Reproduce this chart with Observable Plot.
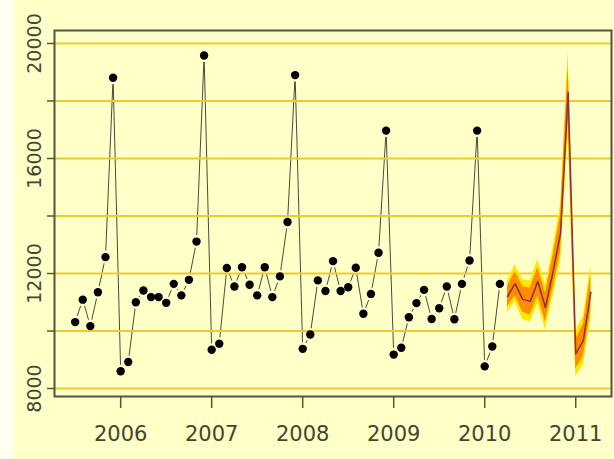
<!DOCTYPE html>
<html>
<head>
<meta charset="utf-8">
<script src="https://cdn.jsdelivr.net/npm/d3@7"></script>
<script src="https://cdn.jsdelivr.net/npm/@observablehq/plot@0.6"></script>
<style>
  html, body { margin: 0; padding: 0; background: #FFFFC8; }
  #chart svg { display: block; }
</style>
</head>
<body>
<div id="chart"></div>
<script>
// Observed monthly series: Jul 2005 .. Mar 2010
const obsStartYear = 2005, obsStartMonth = 7;
const observed = [
  10310, 11090, 10170, 11350, 12570, 18810,
  8600, 8920, 11000, 11410, 11180, 11180, 10980, 11640, 11240, 11780, 13110, 19580,
  9350, 9560, 12190, 11550, 12220, 11610, 11240, 12220, 11180, 11900, 13790, 18900,
  9380, 9880, 11760, 11390, 12430, 11390, 11520, 12200, 10600, 11290, 12720, 16970,
  9180, 9420, 10480, 10970, 11430, 10420, 10790, 11550, 10410, 11640, 12450, 16970,
  8770, 9460, 11640
];

// Forecast: Apr 2010 .. Mar 2011
const fcStartYear = 2010, fcStartMonth = 4;
const fcMean = [11200, 11650, 11100, 11030, 11720, 10820, 12050, 13400, 18300, 9200, 9670, 11350];
const fcLo80 = [10840, 11230, 10650, 10560, 11220, 10320, 11490, 12750, 17350, 8690, 9110, 10730];
const fcHi80 = [11560, 12070, 11550, 11500, 12220, 11320, 12610, 14050, 19250, 9710, 10230, 11970];
const fcLo95 = [10650, 11000, 10400, 10310, 10940, 10040, 11200, 12400, 16850, 8420, 8820, 10400];
const fcHi95 = [11750, 12300, 11800, 11750, 12500, 11600, 12900, 14400, 19750, 9980, 10520, 12300];

// Axis ticks and labels
const yTicks = [8000, 10000, 12000, 14000, 16000, 18000, 20000];
const yLabels = [8000, 12000, 16000, 20000];
const xTicks = [2006, 2007, 2008, 2009, 2010, 2011];

const monthTime = (y0, m0, i) => y0 + (m0 - 1 + i) / 12;
const obs = observed.map((v, i) => ({ t: monthTime(obsStartYear, obsStartMonth, i), v }));
const fc = fcMean.map((v, i) => ({
  t: monthTime(fcStartYear, fcStartMonth, i), mean: v,
  lo80: fcLo80[i], hi80: fcHi80[i], lo95: fcLo95[i], hi95: fcHi95[i]
}));

const bg = "#FFFFC8";
const ink = "#55553a";
const textCol = "#45452e";

const svg = Plot.plot({
  width: 614,
  height: 459,
  marginLeft: 54,
  marginRight: 3,
  marginTop: 30,
  marginBottom: 63,
  style: { background: "linear-gradient(to right, #FFFFF2 0px, #FFFFF2 11px, #FFFFC8 16px)", overflow: "visible" },
  x: { domain: [2005.273, 2011.393], label: null },
  y: { domain: [7722, 20452], label: null },
  marks: [
    Plot.line(obs, { x: "t", y: "v", stroke: "#4a4a3a", strokeWidth: 1 }),
    Plot.dot(obs, { x: "t", y: "v", r: 6.5, fill: bg, stroke: "none" }),
    Plot.ruleY(yTicks, { stroke: "#EBCB2F", strokeWidth: 2.2 }),
    Plot.areaY(fc, { x: "t", y1: "lo95", y2: "hi95", fill: "#FFE800" }),
    Plot.areaY(fc, { x: "t", y1: "lo80", y2: "hi80", fill: "#FF8C00" }),
    Plot.line(fc, { x: "t", y: "mean", stroke: "#8B2D3A", strokeWidth: 1.5 }),
    Plot.dot(obs, { x: "t", y: "v", r: 4.2, fill: "#000" }),
    Plot.frame({ stroke: ink, strokeWidth: 2 }),
    Plot.axisY({ ticks: yTicks, tickSize: 7, tickFormat: () => "", label: null, stroke: ink, strokeWidth: 1.5 }),
    Plot.axisX({ ticks: xTicks, tickSize: 12, tickFormat: () => "", label: null, stroke: ink, strokeWidth: 1.5 }),
    Plot.text(yLabels, {
      y: d => d, text: d => String(d), frameAnchor: "left", dx: -20, rotate: -90,
      textAnchor: "middle",
      fontSize: 19, fill: textCol, fontFamily: "DejaVu Sans", ariaLabel: "ylabels"
    }),
    Plot.text(xTicks, {
      x: d => d, text: d => String(d), frameAnchor: "bottom", dy: 44,
      textAnchor: "middle",
      fontSize: 21, fill: textCol, fontFamily: "DejaVu Sans", ariaLabel: "xlabels"
    })
  ]
});

function squeeze(selector, lengthFor) {
  svg.querySelectorAll(selector).forEach(t => {
    const L = lengthFor(t.textContent);
    t.setAttribute("text-anchor", "start");
    t.setAttribute("x", -L / 2);
    t.setAttribute("textLength", L);
    t.setAttribute("lengthAdjust", "spacingAndGlyphs");
  });
}
squeeze('g[aria-label="ylabels"] text', s => s.length * 13.4);
squeeze('g[aria-label="xlabels"] text', s => 33);

document.getElementById("chart").appendChild(svg);
</script>
</body>
</html>
